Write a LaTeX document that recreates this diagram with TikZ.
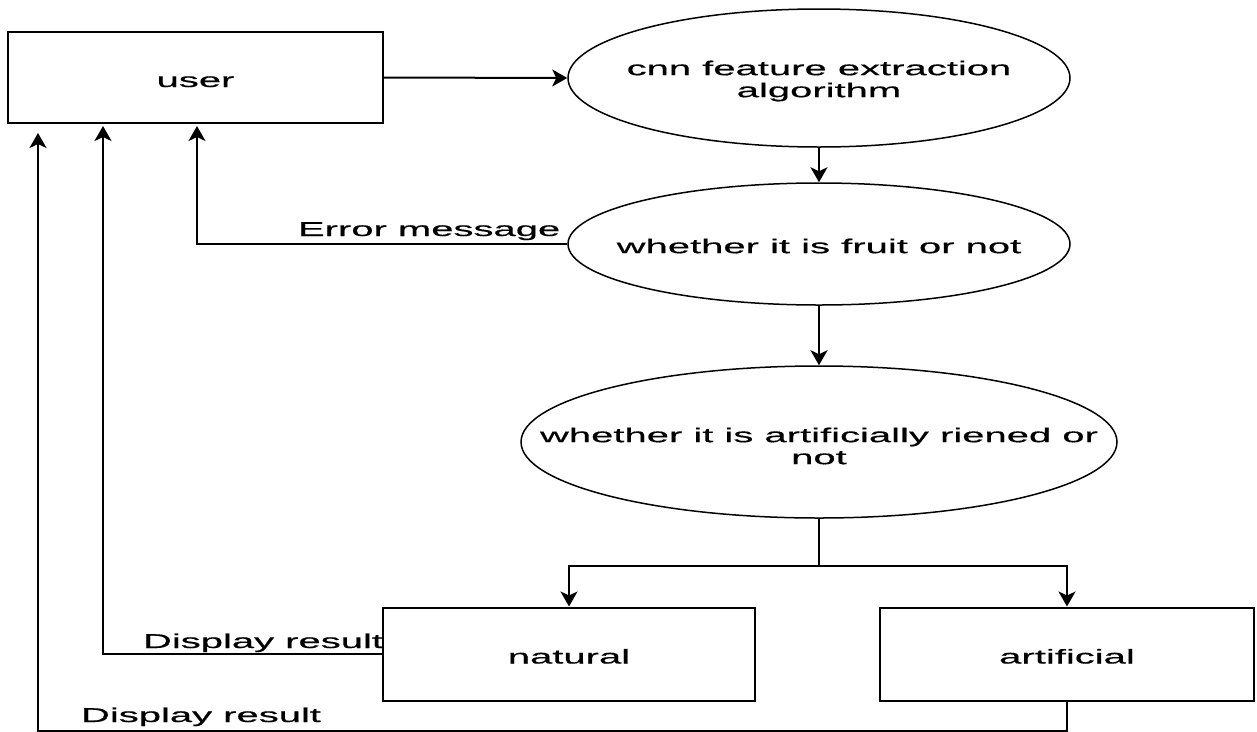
\documentclass[tikz,border=0pt]{standalone}
\usepackage{fontspec}
\setmainfont{Liberation Sans}
\newfontfamily\widefont[FakeStretch=2.0,FakeBold=0.5]{Liberation Sans}
\usetikzlibrary{shapes.geometric,arrows.meta}

\begin{document}
\begin{tikzpicture}[x=1pt,y=-1pt,line width=2pt,
    box/.style={draw,rectangle,inner sep=0pt,text height=19pt,text depth=0pt,
        font=\widefont\fontsize{20}{22}\selectfont},
    oval/.style={draw,ellipse,inner sep=0pt,line width=1.5pt},
    txt/.style={font=\widefont\fontsize{20}{22}\selectfont,align=center,inner sep=0pt},
    lbl/.style={font=\widefont\fontsize{20}{22}\selectfont,anchor=base west,inner sep=0pt},
    arr/.style={-{Stealth[length=15pt,width=17pt,inset=4pt]}}]
    \useasboundingbox (0,0) rectangle (1257,731);
    \node[box,minimum width=375pt,minimum height=91pt] (user) at (195.5,77.5) {user};
    \node[oval,minimum width=502pt,minimum height=138pt] (cnn) at (819,78) {};
    \node[txt] (cnntxt) at (819,81) {cnn feature extraction\\algorithm};
    \node[oval,minimum width=502pt,minimum height=122pt] (fruit) at (819,244) {};
    \node[txt] (fruittxt) at (819,246) {whether it is fruit or not};
    \node[oval,minimum width=596pt,minimum height=152pt] (ripen) at (819,442) {};
    \node[txt] (ripentxt) at (819,446) {whether it is artificially riened or\\not};
    \node[box,minimum width=372pt,minimum height=93pt] (natural) at (569,654) {natural};
    \node[box,minimum width=374pt,minimum height=93pt] (artificial) at (1067,654) {artificial};
    \coordinate (back1) at (38,133);
    \coordinate (back2) at (103,126);
    \coordinate (back3) at (197,126);
    \draw[arr] (user.east) -- (cnn.west);
    \draw[arr] (cnn) -- (fruit);
    \draw[arr] (fruit) -- (ripen);
    \draw (ripen.south) -- ++(0,47) coordinate (fork);
    \draw[arr] (fork) -| (natural);
    \draw[arr] (fork) -| (artificial);
    \draw[arr] (fruit.west) -| (back3);
    \draw[arr] (natural.west) -| (back2);
    \draw[arr] (artificial.south) -- ++(0,29) -| (back1);
    \node[lbl] (errlbl) at (297,236) {Error message};
    \node[lbl] (res1) at (142,648) {Display result};
    \node[lbl] (res2) at (80,722) {Display result};
\end{tikzpicture}
\end{document}
